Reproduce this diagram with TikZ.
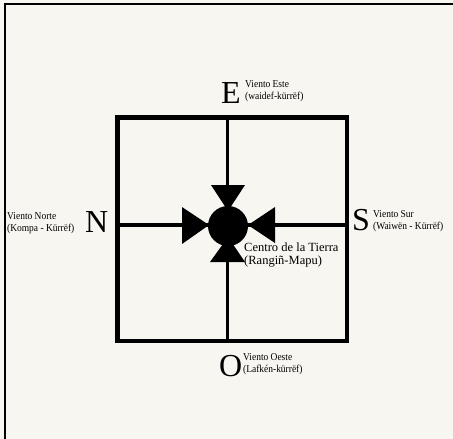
\documentclass[tikz,border=0pt]{standalone}
\usepackage{fontspec}
\setmainfont{Liberation Serif}
\newfontfamily\condserif[FakeStretch=0.9]{Liberation Serif}
\definecolor{paper}{HTML}{F7F6F1}
\begin{document}
\begin{tikzpicture}[x=1pt,y=-1pt,
  bigletter/.style={font=\fontsize{32}{32}\selectfont, inner sep=0pt, anchor=base west},
  smalllabel/.style={font=\condserif\fontsize{10.5}{12}\selectfont, align=left, inner sep=0pt, anchor=west},
  centrelabel/.style={font=\fontsize{12.5}{13.5}\selectfont, align=left, inner sep=0pt, anchor=west},
  thick line/.style={line width=4.5pt},
  cross line/.style={line width=3.5pt},
  wedge/.style={fill=black}]
\fill[paper] (0,0) rectangle (453,439);
\useasboundingbox (0,0) rectangle (453,439);
% outer frame
\draw[line width=2pt] (5,439) -- (5,4) -- (453,4);
% square corners
\coordinate (tl) at (117.5,117.5);
\coordinate (tr) at (347,117.5);
\coordinate (br) at (347,341);
\coordinate (bl) at (117.5,341);
\coordinate (ntop) at (227.5,117.5);
\coordinate (nbot) at (227.5,341);
\coordinate (wl) at (117.5,225);
\coordinate (wr) at (347,225);
% cross
\draw[cross line] (ntop) -- (nbot);
\draw[cross line] (wl) -- (wr);
\draw[thick line, line join=miter] (tl) -- (tr) -- (br) -- (bl) -- cycle;
% centre
\node[circle, fill=black, minimum size=40pt, inner sep=0pt] (earth) at (228,226) {};
\fill[wedge] (211,185) -- (245,185) -- (228,211) -- cycle;
\fill[wedge] (210,262) -- (245,262) -- (228,237) -- cycle;
\fill[wedge] (182,207) -- (182,244) -- (209,225) -- cycle;
\fill[wedge] (275,207) -- (275,243) -- (248,225) -- cycle;
% labels
\node[bigletter] (E) at (221,103) {E};
\node[smalllabel] (Elab) at (245,91) {Viento Este\\(waidef-kürrëf)};
\node[bigletter] (N) at (85,232) {N};
\node[smalllabel] (Nlab) at (7,223) {Viento Norte\\(Kompa - Kürrëf)};
\node[bigletter] (S) at (352,230) {S};
\node[smalllabel] (Slab) at (373,221) {Viento Sur\\(Waiwën - Kürrëf)};
\node[bigletter] (O) at (219,376) {O};
\node[smalllabel] (Olab) at (243,364) {Viento Oeste\\(Lafkén-kürrëf)};
\node[centrelabel] (clab) at (244,255) {Centro de la Tierra\\(Rangiñ-Mapu)};
\end{tikzpicture}
\end{document}
